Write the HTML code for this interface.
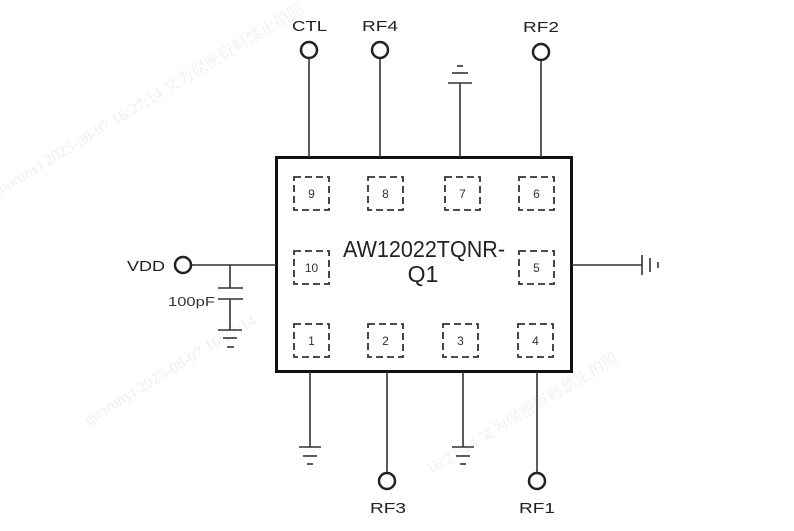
<!DOCTYPE html>
<html><head><meta charset="utf-8"><style>
html,body{margin:0;padding:0;background:#fff;width:794px;height:531px;overflow:hidden}
svg{display:block}
</style></head><body>
<svg width="794" height="531" viewBox="0 0 794 531" xmlns="http://www.w3.org/2000/svg">
<g font-family="'Liberation Serif','Noto Serif CJK SC',serif" font-size="16" fill="#efefef">
<text transform="translate(-5,198) rotate(-31)">guorunyi   2025-08-07   16:27:14   文为保密资料禁止拍照</text>
<text transform="translate(88,425) rotate(-31)">guorunyi   2025-08-07   16:27:14</text>
<text transform="translate(430,475) rotate(-31)">16:27:14   文为保密资料禁止拍照</text>
</g>
<!-- chip body -->
<rect x="276.5" y="157.5" width="295" height="214" fill="none" stroke="#111" stroke-width="3"/>
<!-- pads -->
<g fill="none" stroke="#333" stroke-width="1.8" stroke-dasharray="7,4">
<rect x="294" y="177" width="35" height="33"/>
<rect x="368" y="177" width="35" height="33"/>
<rect x="445" y="177" width="35" height="33"/>
<rect x="519" y="177" width="35" height="33"/>
<rect x="294" y="251" width="35" height="33"/>
<rect x="519" y="251" width="35" height="33"/>
<rect x="294" y="324" width="35" height="33"/>
<rect x="368" y="324" width="35" height="33"/>
<rect x="443" y="324" width="35" height="33"/>
<rect x="518" y="324" width="35" height="33"/>
</g>
<g font-family="'Liberation Sans',sans-serif" font-size="12" fill="#333" text-anchor="middle">
<text x="311.5" y="198">9</text>
<text x="385.5" y="198">8</text>
<text x="462.5" y="198">7</text>
<text x="536.5" y="198">6</text>
<text x="311.5" y="272">10</text>
<text x="536.5" y="272">5</text>
<text x="311.5" y="345">1</text>
<text x="385.5" y="345">2</text>
<text x="460.5" y="345">3</text>
<text x="535.5" y="345">4</text>
</g>
<g font-family="'Liberation Sans',sans-serif" font-size="23" fill="#222" text-anchor="middle">
<text x="424" y="257" textLength="162" lengthAdjust="spacingAndGlyphs">AW12022TQNR-</text>
<text x="423" y="282">Q1</text>
</g>
<!-- leads -->
<g stroke="#333" stroke-width="1.6" fill="none">
<line x1="309" y1="59" x2="309" y2="157"/>
<line x1="380" y1="59" x2="380" y2="157"/>
<line x1="460" y1="83" x2="460" y2="157"/>
<line x1="541" y1="61" x2="541" y2="157"/>
<line x1="310" y1="372" x2="310" y2="447"/>
<line x1="387" y1="372" x2="387" y2="472"/>
<line x1="463" y1="372" x2="463" y2="447"/>
<line x1="537" y1="372" x2="537" y2="472"/>
<line x1="191" y1="265" x2="276" y2="265"/>
<line x1="572" y1="265" x2="642" y2="265"/>
<line x1="230" y1="265" x2="230" y2="288"/>
<line x1="230" y1="299" x2="230" y2="330"/>
<line x1="218" y1="288" x2="243" y2="288"/>
<line x1="218" y1="299" x2="243" y2="299"/>
<line x1="218" y1="330" x2="242" y2="330"/>
<line x1="223" y1="338" x2="237" y2="338"/>
<line x1="227" y1="347" x2="234" y2="347"/>
<line x1="448" y1="83" x2="472" y2="83"/>
<line x1="452" y1="73" x2="468" y2="73"/>
<line x1="457" y1="66" x2="463" y2="66"/>
<line x1="299" y1="447" x2="321" y2="447"/>
<line x1="303" y1="456" x2="317" y2="456"/>
<line x1="307" y1="464" x2="313" y2="464"/>
<line x1="452" y1="447" x2="474" y2="447"/>
<line x1="456" y1="456" x2="470" y2="456"/>
<line x1="460" y1="464" x2="466" y2="464"/>
<line x1="642" y1="255" x2="642" y2="275"/>
<line x1="650" y1="258" x2="650" y2="272"/>
<line x1="658" y1="262" x2="658" y2="268"/>
</g>
<!-- terminals -->
<g stroke="#222" stroke-width="2.5" fill="#fff">
<circle cx="309" cy="50" r="8"/>
<circle cx="380" cy="50" r="8"/>
<circle cx="541" cy="52" r="8"/>
<circle cx="387" cy="481" r="8"/>
<circle cx="537" cy="481" r="8"/>
<circle cx="183" cy="265" r="8"/>
</g>
<g font-family="'Liberation Sans',sans-serif" font-size="15" fill="#222">
<text x="292" y="31" textLength="35" lengthAdjust="spacingAndGlyphs">CTL</text>
<text x="362" y="31" textLength="36" lengthAdjust="spacingAndGlyphs">RF4</text>
<text x="523" y="32" textLength="36" lengthAdjust="spacingAndGlyphs">RF2</text>
<text x="370" y="513" textLength="36" lengthAdjust="spacingAndGlyphs">RF3</text>
<text x="519" y="513" textLength="36" lengthAdjust="spacingAndGlyphs">RF1</text>
<text x="127" y="271" textLength="38" lengthAdjust="spacingAndGlyphs">VDD</text>
</g>
<text x="168" y="306" font-family="'Liberation Sans',sans-serif" font-size="13" fill="#333" textLength="47" lengthAdjust="spacingAndGlyphs">100pF</text>
</svg>
</body></html>
